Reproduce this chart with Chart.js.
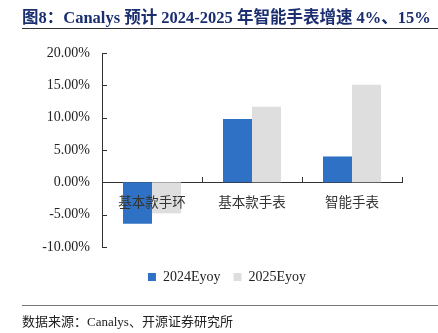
<!DOCTYPE html>
<html>
<head>
<meta charset="utf-8">
<script src="https://cdn.jsdelivr.net/npm/chart.js@4.4.0/dist/chart.umd.min.js"></script>
<style>
  html, body { margin: 0; padding: 0; background: #fff; }
  #wrap { position: relative; width: 438px; height: 333px; overflow: hidden; }
  #title {
    position: absolute; left: 22px; top: 4px; white-space: nowrap;
    font-family: "Liberation Serif", "Noto Sans CJK SC", serif;
    font-weight: bold; font-size: 16.5px; color: #1b2f70;
  }
  #titleLine { position: absolute; left: 22px; top: 28px; width: 416px; height: 1px; background: #333; }
  #footLine { position: absolute; left: 22px; top: 305px; width: 416px; height: 1px; background: #777; }
  #foot {
    position: absolute; left: 22px; top: 311px; white-space: nowrap;
    font-family: "Liberation Serif", "Noto Sans CJK SC", serif;
    font-size: 13px; color: #222;
  }
  canvas { position: absolute; left: 0; top: 0; }
</style>
</head>
<body>
<div id="wrap">
  <canvas id="myChart" width="438" height="333"></canvas>
  <div id="title">图8：Canalys 预计 2024-2025 年智能手表增速 4%、15%</div>
  <div id="titleLine"></div>
  <div id="footLine"></div>
  <div id="foot">数据来源：Canalys、开源证券研究所</div>
</div>
<script>
// chart data
const categories = ['基本款手环', '基本款手表', '智能手表'];
const yoy2024 = [-6.4, 9.8, 4.0];
const yoy2025 = [-4.8, 11.7, 15.1];
const seriesNames = ['2024Eyoy', '2025Eyoy'];
const yTicks = [-10, -5, 0, 5, 10, 15, 20];

// small inside tick marks like excel
const innerTicks = {
  id: 'innerTicks',
  afterDraw(chart) {
    const ctx = chart.ctx;
    const x = chart.scales.x, y = chart.scales.y;
    const left = chart.chartArea.left;
    const zero = Math.round(y.getPixelForValue(0));
    const w = x.getPixelForValue(1) - x.getPixelForValue(0);
    ctx.save();
    ctx.strokeStyle = '#333';
    ctx.lineWidth = 1;
    ctx.beginPath();
    yTicks.forEach(v => {
      const py = Math.round(y.getPixelForValue(v)) + 0.5;
      ctx.moveTo(left, py);
      ctx.lineTo(left + 5, py);
    });
    for (let i = 1; i <= categories.length; i++) {
      const px = Math.round(x.getPixelForValue(i - 1) + w / 2) + 0.5;
      ctx.moveTo(px, zero);
      ctx.lineTo(px, zero - 5);
    }
    ctx.stroke();
    ctx.restore();
  }
};

var ctx = document.getElementById('myChart').getContext('2d');
var myChart = new Chart(ctx, {
  type: 'bar',
  data: {
    labels: categories,
    datasets: [{
      label: seriesNames[0],
      data: yoy2024,
      backgroundColor: '#2f72c5'
    }, {
      label: seriesNames[1],
      data: yoy2025,
      backgroundColor: '#dedede'
    }]
  },
  options: {
    responsive: false,
    animation: false,
    categoryPercentage: 0.58,
    barPercentage: 1,
    layout: { padding: { left: 16, right: 0, top: 53, bottom: 39 } },
    plugins: {
      tooltip: { enabled: false },
      legend: {
        position: 'bottom',
        title: { display: true, text: ' ', padding: 0, font: { size: 10, lineHeight: 1 } },
        labels: {
          boxWidth: 8, boxHeight: 8, padding: 13,
          color: '#222',
          font: { family: 'Liberation Serif', size: 14 }
        }
      }
    },
    scales: {
      x: {
        position: { y: 0 },
        grid: { display: false, drawTicks: false },
        border: { display: true, color: '#333', width: 1 },
        ticks: {
          z: 1,
          padding: 11, color: '#333',
          font: { family: '"Noto Sans CJK SC"', size: 13.5 }
        }
      },
      y: {
        min: -10, max: 20,
        afterFit: s => { s.width = 86; },
        afterBuildTicks: s => { s.ticks = yTicks.map(v => ({ value: v })); },
        grid: { display: false, drawTicks: false },
        border: { display: true, color: '#333', width: 1 },
        ticks: {
          padding: 12, color: '#222',
          font: { family: 'Liberation Serif', size: 14 },
          callback: v => v.toFixed(2) + '%'
        }
      },
      // empty right axis only keeps the right margin
      yPad: {
        position: 'right',
        min: -10, max: 20,
        afterFit: s => { s.width = 36; },
        grid: { display: false, drawTicks: false },
        border: { display: false },
        ticks: { display: false }
      }
    }
  },
  plugins: [innerTicks]
});
</script>
</body>
</html>
